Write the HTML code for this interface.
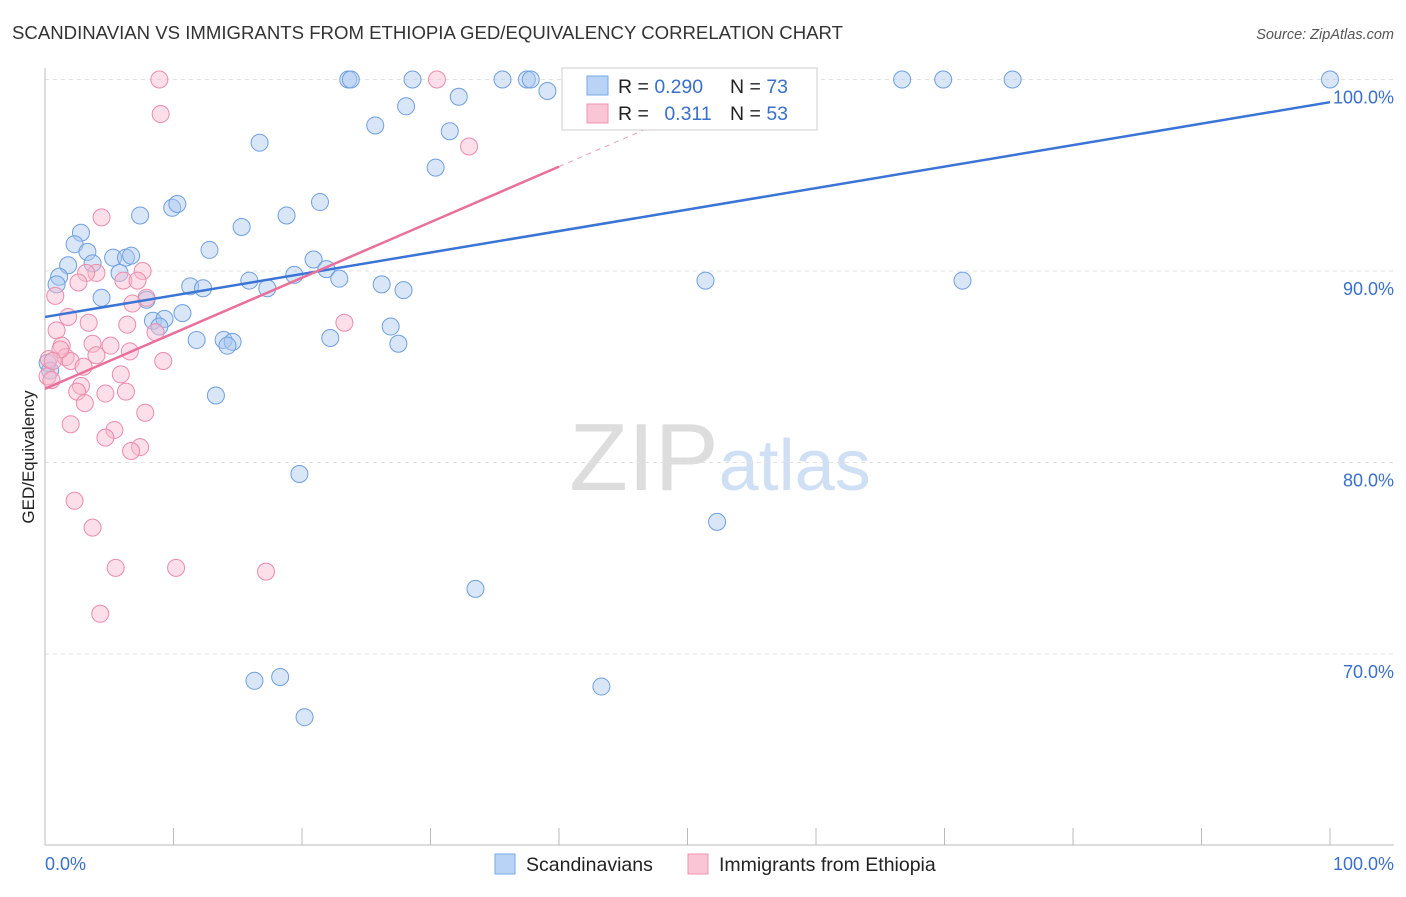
<!DOCTYPE html>
<html><head><meta charset="utf-8"><style>
body{margin:0;background:#fff;font-family:"Liberation Sans",sans-serif}
svg text{font-family:"Liberation Sans",sans-serif}
</style></head><body>
<svg id="chart" width="1406" height="892" xmlns="http://www.w3.org/2000/svg">
<text x="12" y="39" font-size="18.6" fill="#333">SCANDINAVIAN VS IMMIGRANTS FROM ETHIOPIA GED/EQUIVALENCY CORRELATION CHART</text>
<text x="1394" y="39" font-size="14.5" fill="#555" text-anchor="end" font-style="italic">Source: ZipAtlas.com</text>
<text x="720" y="490" font-size="96" fill="#ddd" text-anchor="middle" font-family="Liberation Serif"><tspan fill="#ddd">ZIP</tspan><tspan fill="#cfe0f5" font-family="Liberation Sans" font-size="72">atlas</tspan></text>
<text transform="translate(34,457) rotate(-90)" font-size="17" fill="#222" text-anchor="middle">GED/Equivalency</text>
<g id="grid"></g><g id="axes"></g><g id="marks"></g>
<g>
<rect x="562" y="68" width="255" height="62" fill="#fff" stroke="#ccc"/>
<rect x="587" y="76" width="21" height="19" fill="#b8d3f5" stroke="#7aa8e8"/>
<rect x="587" y="104" width="21" height="19" fill="#fac6d6" stroke="#ee94b0"/>
<text x="618" y="93" font-size="19.5" fill="#222">R = <tspan fill="#3a70cc">0.290</tspan></text>
<text x="730" y="93" font-size="19.5" fill="#222">N = <tspan fill="#3a70cc">73</tspan></text>
<text x="618" y="120" font-size="19.5" fill="#222">R =  <tspan fill="#3a70cc" dx="10">0.311</tspan></text>
<text x="730" y="120" font-size="19.5" fill="#222">N = <tspan fill="#3a70cc">53</tspan></text>
</g>
<g>
<rect x="495" y="854" width="20" height="20" fill="#b8d3f5" stroke="#7aa8e8"/>
<text x="526" y="871" font-size="19.5" fill="#222">Scandinavians</text>
<rect x="688" y="854" width="20" height="20" fill="#fac6d6" stroke="#ee94b0"/>
<text x="719" y="871" font-size="19.5" fill="#222">Immigrants from Ethiopia</text>
</g>
<text x="45" y="870" font-size="18" fill="#3a70cc">0.0%</text>
<text x="1394" y="870" font-size="18" fill="#3a70cc" text-anchor="end">100.0%</text>
</svg>
<script>
const yTicks=[100,90,80,70];
const blueX=[23.6,23.8,28.6,35.6,37.5,37.8,42.0,47.2,66.7,69.9,75.3,100,28.1,32.2,39.1,25.7,31.5,16.7,30.4,7.4,9.9,10.3,18.8,21.4,15.3,2.8,2.3,3.3,12.8,1.8,3.7,5.3,6.3,6.7,5.8,20.9,21.9,22.9,15.9,19.4,11.3,12.3,17.3,26.2,27.9,1.1,0.9,4.4,7.9,51.4,71.4,8.4,9.3,10.7,8.9,11.8,13.9,14.6,14.2,22.2,26.9,27.5,13.3,0.2,0.4,19.8,52.3,33.5,16.3,18.3,43.3,20.2];
const blueY=[100,100,100,100,100,100,100,100,100,100,100,100,98.6,99.1,99.4,97.6,97.3,96.7,95.4,92.9,93.3,93.5,92.9,93.6,92.3,92.0,91.4,91.0,91.1,90.3,90.4,90.7,90.7,90.8,89.9,90.6,90.1,89.6,89.5,89.8,89.2,89.1,89.1,89.3,89.0,89.7,89.3,88.6,88.5,89.5,89.5,87.4,87.5,87.8,87.1,86.4,86.4,86.3,86.1,86.5,87.1,86.2,83.5,85.2,84.8,79.4,76.9,73.4,68.6,68.8,68.3,66.7];
const pinkX=[8.9,30.5,9.0,33.0,4.4,7.6,4.0,3.2,2.6,6.1,7.2,0.8,7.9,6.8,1.8,3.4,6.4,8.6,0.9,1.3,3.7,5.1,6.6,23.3,1.6,4.0,2.0,9.2,3.0,5.9,0.3,0.2,2.8,2.5,4.7,6.3,3.1,7.8,2.0,5.4,4.7,7.4,6.7,2.3,3.7,5.5,10.2,17.2,4.3,0.5,1.2,0.6];
const pinkY=[100,100,98.2,96.5,92.8,90.0,89.9,89.9,89.4,89.5,89.5,88.7,88.6,88.3,87.6,87.3,87.2,86.8,86.9,86.1,86.2,86.1,85.8,87.3,85.5,85.6,85.3,85.3,85.0,84.6,85.4,84.5,84.0,83.7,83.6,83.7,83.1,82.6,82.0,81.7,81.3,80.8,80.6,78.0,76.6,74.5,74.5,74.3,72.1,84.3,85.9,85.3];
const X0=45,X1=1330,Y100=79.5,PX10=191.5;
const sx=v=>X0+(X1-X0)*v/100;
const sy=v=>Y100+(100-v)*PX10/10;
const NS="http://www.w3.org/2000/svg";
function mk(tag,attrs,parent){const e=document.createElementNS(NS,tag);for(const k in attrs)e.setAttribute(k,attrs[k]);document.getElementById(parent).appendChild(e);return e;}
yTicks.forEach(t=>{
 const l=mk('line',{x1:45,x2:1394,y1:sy(t),y2:sy(t),stroke:'#e2e2e2','stroke-dasharray':'4,4'},'grid');
 
 
 const tx=mk('text',{x:1394,y:sy(t)+24,'font-size':18,fill:'#3a70cc','text-anchor':'end'},'grid');
 tx.textContent=t.toFixed(1)+'%';
 
 
});
const ax=mk('line',{x1:45,x2:45,y1:68,y2:845,stroke:'#bbb'},'axes');


const bx=mk('line',{x1:45,x2:1394,y1:845,y2:845,stroke:'#bbb'},'axes');


for(let i=0;i<=10;i++){const x=sx(i*10);const t=mk('line',{x1:x,x2:x,y1:828,y2:845,stroke:'#bbb'},'axes');
 
 }
function draw(xs,ys,fill,stroke,name){xs.forEach((x,i)=>{const c=mk('circle',{cx:sx(x),cy:sy(ys[i]),r:8.5,fill:fill,'fill-opacity':0.45,stroke:stroke,'stroke-width':1},'marks');
 
 });}
draw(blueX,blueY,'#a9c8f0','#6f9fe0','scandinavian-point');
draw(pinkX,pinkY,'#f8b8cb','#eb8cab','ethiopia-point');
function fit(xs,ys){const n=xs.length;const mx=xs.reduce((a,b)=>a+b)/n,my=ys.reduce((a,b)=>a+b)/n;let sxy=0,sxx=0;xs.forEach((x,i)=>{sxy+=(x-mx)*(ys[i]-my);sxx+=(x-mx)**2;});const b=sxy/sxx;return [my-b*mx,b];}
const [ba,bb]=fit(blueX,blueY);
const bl=mk('line',{x1:sx(0),y1:sy(ba),x2:sx(100),y2:sy(ba+bb*100),stroke:'#3a74d4','stroke-width':2.5},'marks');


const [pa,pb]=fit(pinkX,pinkY);
const pl=mk('line',{x1:sx(0),y1:sy(pa),x2:sx(40),y2:sy(pa+pb*40),stroke:'#e8709a','stroke-width':2.5},'marks');


const pd=mk('line',{x1:sx(40),y1:sy(pa+pb*40),x2:sx(55),y2:sy(pa+pb*55),stroke:'#e8a0b8','stroke-width':1,'stroke-dasharray':'5,5'},'marks');


</script>
</body></html>
